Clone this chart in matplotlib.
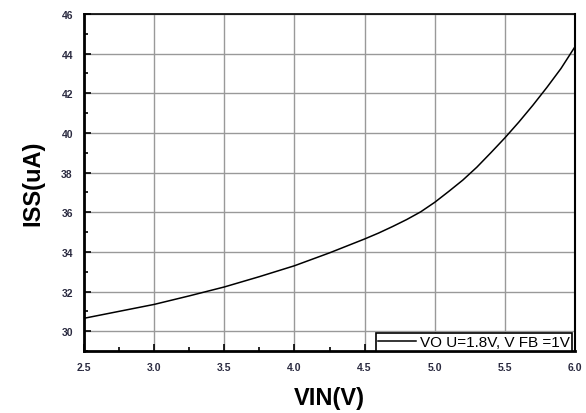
import matplotlib
matplotlib.use("Agg")
import matplotlib.pyplot as plt
from matplotlib.ticker import MultipleLocator, FormatStrFormatter

# data
vin = [2.5, 2.75, 3.0, 3.25, 3.5, 3.75, 4.0, 4.25, 4.5, 4.6, 4.7, 4.8, 4.9,
       5.0, 5.1, 5.2, 5.3, 5.4, 5.5, 5.6, 5.7, 5.8, 5.9, 6.0]
iss = [30.65, 31.0, 31.35, 31.78, 32.23, 32.75, 33.3, 33.95, 34.65, 34.95,
       35.28, 35.63, 36.02, 36.5, 37.05, 37.62, 38.27, 39.0, 39.75, 40.55,
       41.4, 42.3, 43.25, 44.35]
legend_label = "VO U=1.8V, V FB =1V"

plt.rcParams['font.family'] = ['Liberation Sans', 'DejaVu Sans']

fig = plt.figure(figsize=(5.86, 4.14), dpi=100)
ax = fig.add_axes([84 / 586, 1 - 352 / 414, (575 - 84) / 586, (352 - 15) / 414])

ax.plot(vin, iss, color='black', linewidth=1.1, label=legend_label)

ax.set_xlim(2.5, 6.0)
ax.set_ylim(29, 46)
ax.xaxis.set_major_locator(MultipleLocator(0.5))
ax.xaxis.set_minor_locator(MultipleLocator(0.25))
ax.yaxis.set_major_locator(MultipleLocator(2))
ax.yaxis.set_minor_locator(MultipleLocator(1))
ax.xaxis.set_major_formatter(FormatStrFormatter('%.1f'))

ax.grid(True, which='major', color='#999999', linewidth=1.0)
ax.set_axisbelow(True)

ax.tick_params(which='major', direction='in', length=5, width=1.2,
               labelsize=7.5, pad=8, labelcolor='#2a2a40')
ax.tick_params(which='minor', direction='in', length=3, width=1.2)
for lab in ax.get_xticklabels() + ax.get_yticklabels():
    lab.set_fontweight('bold')

ax.spines['left'].set_linewidth(2)
ax.spines['bottom'].set_linewidth(2)
ax.spines['right'].set_linewidth(1.5)
ax.spines['top'].set_linewidth(1.2)

ax.set_xlabel('VIN(V)', fontsize=17, fontweight='bold', labelpad=10)
ax.set_ylabel('ISS(uA)', fontsize=17, fontweight='bold', labelpad=12)

leg = ax.legend(loc='lower right', borderaxespad=0, fancybox=False,
                framealpha=1, edgecolor='black', fontsize=11,
                handlelength=2.5, handletextpad=0.3, borderpad=0.12,
                bbox_to_anchor=(0.994, 0))
leg.get_frame().set_linewidth(1.2)

plt.savefig('out.png', dpi=100)
